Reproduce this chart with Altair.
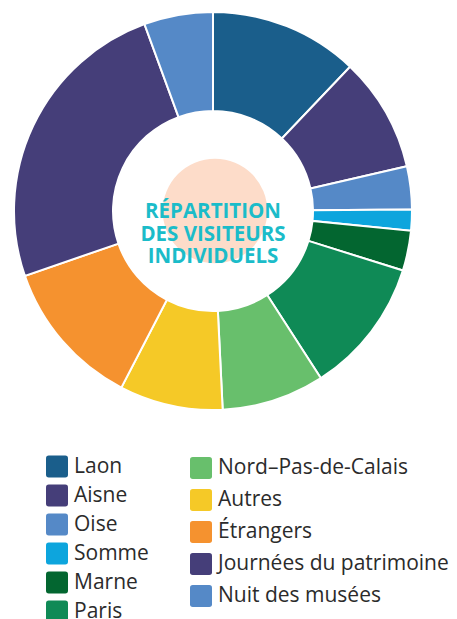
import math
import altair as alt
import pandas as pd

# ---- data ----
names = ["Laon", "Aisne", "Oise", "Somme", "Marne", "Paris",
         "Nord–Pas-de-Calais", "Autres", "Étrangers",
         "Journées du patrimoine", "Nuit des musées"]
shares = [12.1, 9.3, 3.5, 1.7, 3.25, 11.05, 8.35, 8.4, 12.1, 24.7, 5.6]
colors = ["#1a5e8b", "#453e79", "#5589c7", "#0da5dd", "#036630", "#0f8a56",
          "#68bf6c", "#f5c927", "#f5922f", "#453e79", "#5589c7"]
title_lines = ["RÉPARTITION", "DES VISITEURS", "INDIVIDUELS"]
left_names = names[:6]
right_names = names[6:]

FONT = "Open Sans"
W, H = 410, 406
color_scale = alt.Scale(domain=names, range=colors)

df = pd.DataFrame({"name": names, "share": shares, "idx": list(range(len(names)))})

arcs = alt.Chart(df).mark_arc(
    outerRadius=199, innerRadius=100, stroke="white", strokeWidth=2
).encode(
    theta=alt.Theta("share:Q", stack=True),
    color=alt.Color("name:N", scale=color_scale, legend=None),
    order=alt.Order("idx:Q"),
)

one = pd.DataFrame({"k": [0]})
peach = alt.Chart(one).mark_circle(
    size=math.pi * 59 * 59, color="#fddcc9", opacity=1
).encode(x=alt.value(W / 2 + 2), y=alt.value(H / 2))

label = alt.Chart(one).mark_text(
    font=FONT, fontWeight="bold", fontSize=20.5, color="#1bbcc9",
    lineHeight=22.5, align="center", baseline="middle"
).encode(x=alt.value(W / 2), y=alt.value(H / 2 + 1), text=alt.value(title_lines))

donut = alt.layer(peach, arcs, label).properties(width=W, height=H)

ROUND_SQ = "M-0.75,-1H0.75Q1,-1,1,-0.75V0.75Q1,1,0.75,1H-0.75Q-1,1,-1,0.75V-0.75Q-1,-1,-0.75,-1Z"


def legend_col(items, step, width, sw_x, txt_x):
    d = pd.DataFrame({"name": items})
    base = alt.Chart(d).encode(
        y=alt.Y("name:N", sort=items, axis=None, scale=alt.Scale(padding=0.5))
    )
    sw = base.mark_point(shape=ROUND_SQ, size=484, filled=True, opacity=1, strokeWidth=0).encode(
        x=alt.value(sw_x),
        color=alt.Color("name:N", scale=color_scale, legend=None),
    )
    tx = base.mark_text(
        align="left", baseline="middle", font=FONT, fontSize=21, color="#2b2b2b"
    ).encode(x=alt.value(txt_x), text="name:N")
    return alt.layer(sw, tx).properties(width=width, height=step * len(items))


left = legend_col(left_names, 29, 170, 49, 66)
right = legend_col(right_names, 32, 250, 23, 40)

chart = alt.vconcat(
    donut, alt.hconcat(left, right, spacing=0), spacing=38
).properties(padding=0).configure_view(stroke=None)

chart.save("out.html", embed_options={"renderer": "svg", "actions": False})
